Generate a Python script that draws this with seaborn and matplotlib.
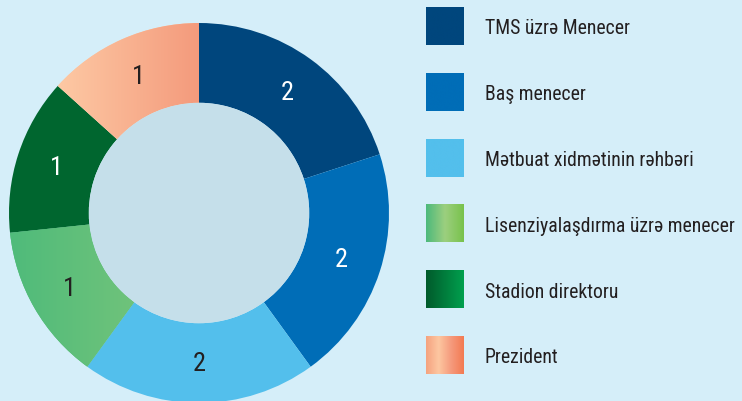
import numpy as np
import matplotlib.pyplot as plt
import seaborn as sns
from matplotlib.colors import LinearSegmentedColormap
from matplotlib.patches import Circle

# data
roles = ['TMS üzrə Menecer', 'Baş menecer', 'Mətbuat xidmətinin rəhbəri',
         'Lisenziyalaşdırma üzrə menecer', 'Stadion direktoru', 'Prezident']
counts = [2, 2, 2, 1, 1, 1]
arc_share = [20, 20, 20, 13.33, 13.33, 13.33]  # per cent of the ring as drawn

# colours: one list of stops per role (single stop = flat fill)
wedge_stops = [['#00467d'], ['#006db7'], ['#53bfec'],
               ['#4fbb7b', '#80c77a'], ['#00662f'], ['#fdc9a4', '#f49a7c']]
legend_stops = [['#00467d'], ['#006db7'], ['#53bfec'],
                ['#4cb97c', '#9ccf7f', '#78c24b'], ['#005a2b', '#00a04e'],
                ['#f5a27f', '#fdc7a1', '#f59a7c', '#f37a52']]
label_colors = ['white', 'white', '#231f20', '#231f20', 'white', '#231f20']

bg = '#d5eef9'
hole = '#c5dfea'

sns.set_style('white')
plt.rcParams['font.family'] = ['Roboto Condensed', 'Roboto', 'DejaVu Sans']

fig = plt.figure(figsize=(7.42, 4.02), dpi=100)
fig.patch.set_facecolor(bg)

W, H = 742, 402
cx, cy, R = 199, 214, 190
ax = fig.add_axes([(cx - R) / W, (H - cy - R) / H, 2 * R / W, 2 * R / H])
ax.set_facecolor('none')

wedges, texts = ax.pie(arc_share, labels=counts, startangle=90, counterclock=False,
                       radius=1, labeldistance=0.79,
                       colors=[s[0] for s in wedge_stops],
                       wedgeprops=dict(width=0.42, linewidth=0))

for w, stops in zip(wedges, wedge_stops):
    if len(stops) < 2:
        continue
    v = w.get_path().vertices
    cmap = LinearSegmentedColormap.from_list('g', stops)
    img = ax.imshow(np.linspace(0, 1, 256)[None, :], cmap=cmap, aspect='auto',
                    extent=(v[:, 0].min(), v[:, 0].max(), v[:, 1].min(), v[:, 1].max()),
                    zorder=1.5)
    img.set_clip_path(w)

for t, c in zip(texts, label_colors):
    t.set_ha('center')
    t.set_va('center')
    t.set_color(c)
    t.set_fontsize(19)
    t.set_zorder(3)

ax.add_patch(Circle((0, 0), 0.58, color=hole, lw=0, zorder=2))
ax.set_xlim(-1, 1)
ax.set_ylim(-1, 1)
ax.set_aspect('equal')
ax.axis('off')

# legend drawn in pixel coordinates
lg = fig.add_axes([0, 0, 1, 1])
lg.set_facecolor('none')
lg.axis('off')
labels = []
for i, (name, stops) in enumerate(zip(roles, legend_stops)):
    y0 = 8 + i * 65.8
    cmap = LinearSegmentedColormap.from_list('l', stops if len(stops) > 1 else stops * 2)
    lg.imshow(np.linspace(0, 1, 256)[None, :], cmap=cmap, aspect='auto',
              extent=(426, 464, y0 + 38, y0))
    labels.append(lg.text(485, y0 + 21, name, fontsize=16, color='#231f20',
                          va='center', ha='left'))
lg.set_xlim(0, W)
lg.set_ylim(H, 0)

# shrink legend text so the longest line ends just inside the right edge
renderer = fig.canvas.get_renderer()
widest = max(t.get_window_extent(renderer).width for t in labels)
size = min(16, 16 * 252 / widest)
for t in labels:
    t.set_fontsize(size)

fig.savefig('out.png', dpi=100, facecolor=bg)
